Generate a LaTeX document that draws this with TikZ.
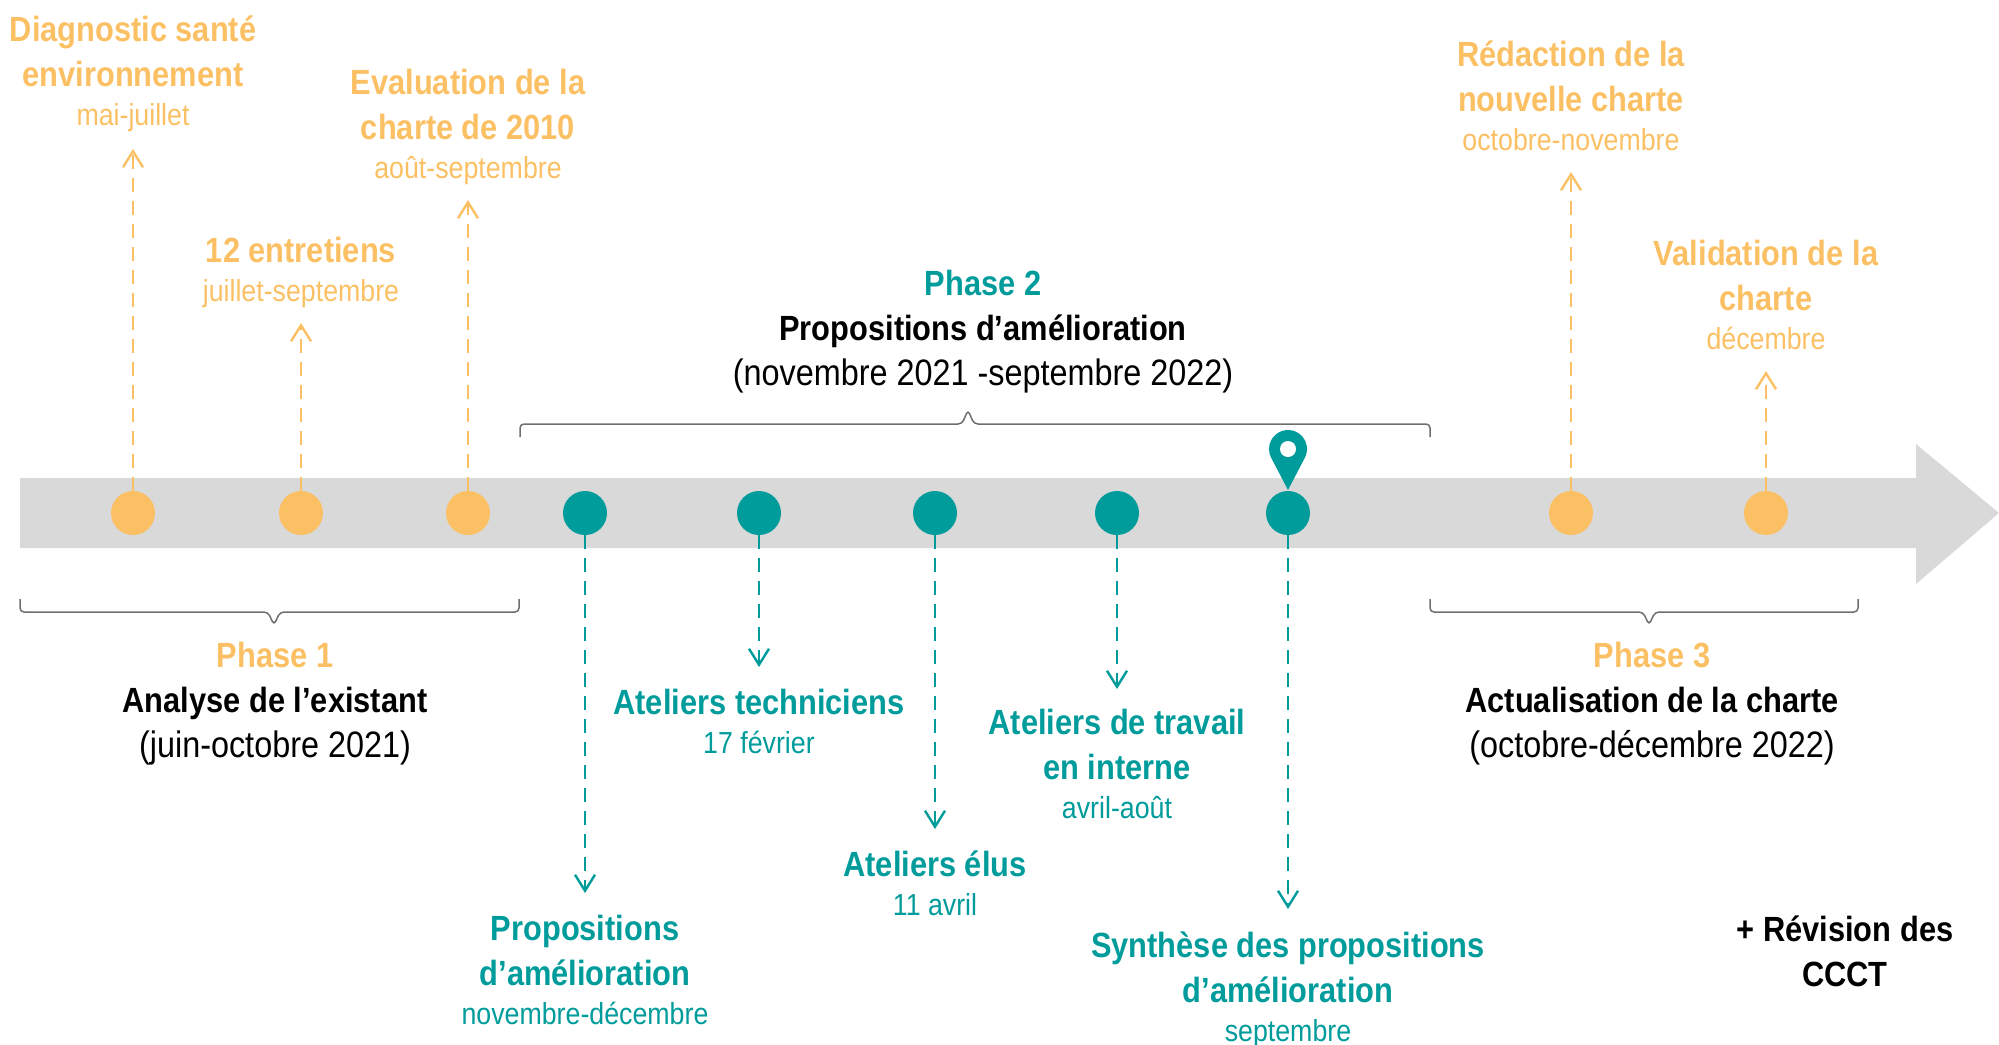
\documentclass[tikz,border=0pt]{standalone}
\usepackage{fontspec}
\setmainfont{Liberation Sans}[FakeStretch=0.88]
\usetikzlibrary{arrows.meta}

\definecolor{orangeTL}{RGB}{251,192,99}
\definecolor{tealTL}{RGB}{0,155,155}
\definecolor{barTL}{RGB}{217,217,217}
\definecolor{braceTL}{RGB}{110,110,110}

\newcommand{\datefont}{\fontsize{15.2}{22.5}\selectfont\mdseries}
\newcommand{\parenfont}{\fontsize{18.4}{22.5}\selectfont\mdseries}

\tikzset{
  dot/.style={circle, minimum size=22pt, inner sep=0pt},
  odot/.style={dot, fill=orangeTL},
  tdot/.style={dot, fill=tealTL},
  oarrow/.style={orangeTL, line width=1.2pt, dash pattern=on 7pt off 4.5pt, -{Straight Barb[length=8pt,width=10pt]}},
  tarrow/.style={tealTL, line width=1.2pt, dash pattern=on 7pt off 4.5pt, -{Straight Barb[length=8pt,width=10pt]}},
  label/.style={align=center, font=\fontsize{17.5}{22.5}\selectfont\bfseries},
  olabel/.style={label, text=orangeTL},
  tlabel/.style={label, text=tealTL},
  bracket/.style={braceTL, line width=0.75pt, rounded corners=2pt}
}

\begin{document}
\begin{tikzpicture}[x=0.5pt,y=-0.5pt]
\useasboundingbox (0,0) rectangle (1999,1045);

% Timeline bar
\fill[barTL] (20,478) -- (1916,478) -- (1916,444) -- (1999,513) -- (1916,584) -- (1916,548) -- (20,548) -- cycle;

% Brackets
\draw[bracket] (20,599) -- (20,612) -- (268,612) -- (274,625) -- (280,612) -- (519,612) -- (519,599); % phase 1
\draw[bracket] (520,437) -- (520,424) -- (962,424) -- (968,410) -- (974,424) -- (1430,424) -- (1430,437); % phase 2
\draw[bracket] (1430,599) -- (1430,612) -- (1643,612) -- (1649,625) -- (1655,612) -- (1858,612) -- (1858,599); % phase 3

% Dots
\node[odot] (d1) at (133,513) {};
\node[odot] (d2) at (301,513) {};
\node[odot] (d3) at (468,513) {};
\node[tdot] (t1) at (585,513) {};
\node[tdot] (t2) at (759,513) {};
\node[tdot] (t3) at (935,513) {};
\node[tdot] (t4) at (1117,513) {};
\node[tdot] (t5) at (1288,513) {};
\node[odot] (d4) at (1571,513) {};
\node[odot] (d5) at (1766,513) {};

% Pin
\begin{scope}[shift={(1288,490)}, x=0.5pt, y=0.5pt]
  \fill[tealTL] (0,0) -- (16.84,32.2) arc[start angle=-27.6, end angle=207.6, radius=9.5pt] -- cycle;
  \fill[white] (0,41) circle[radius=4pt];
\end{scope}

% Arrow ends
\coordinate (a1) at (133,149);
\coordinate (a2) at (301,323);
\coordinate (a3) at (468,200);
\coordinate (a4) at (1571,172);
\coordinate (a5) at (1766,371);
\coordinate (b1) at (585,893);
\coordinate (b2) at (759,667);
\coordinate (b3) at (935,829);
\coordinate (b4) at (1117,689);
\coordinate (b5) at (1288,909);

% Arrows
\draw[oarrow] (d1) -- (a1);
\draw[oarrow] (d2) -- (a2);
\draw[oarrow] (d3) -- (a3);
\draw[oarrow] (d4) -- (a4);
\draw[oarrow] (d5) -- (a5);
\draw[tarrow] (t1) -- (b1);
\draw[tarrow] (t2) -- (b2);
\draw[tarrow] (t3) -- (b3);
\draw[tarrow] (t4) -- (b4);
\draw[tarrow] (t5) -- (b5);

% Labels above
\node[olabel] (l1) at (133,74) {Diagnostic santé\\environnement\\[-3pt]{\datefont mai-juillet}};
\node[olabel] (l2) at (301,272) {12 entretiens\\[-3pt]{\datefont juillet-septembre}};
\node[olabel] (l3) at (468,127) {Evaluation de la\\charte de 2010\\[-3pt]{\datefont août-septembre}};
\node[olabel] (l4) at (1571,96) {Rédaction de la\\nouvelle charte\\[-3pt]{\datefont octobre-novembre}};
\node[olabel] (l5) at (1766,295) {Validation de la\\charte\\[-3pt]{\datefont décembre}};

% Labels below
\node[tlabel] (m1) at (585,970) {Propositions\\d’amélioration\\[-3pt]{\datefont novembre-décembre}};
\node[tlabel] (m2) at (759,721) {Ateliers techniciens\\[-3pt]{\datefont 17 février}};
\node[tlabel] (m3) at (935,883) {Ateliers élus\\[-3pt]{\datefont 11 avril}};
\node[tlabel] (m4) at (1117,764) {Ateliers de travail\\en interne\\[-3pt]{\datefont avril-août}};
\node[tlabel] (m5) at (1288,990) {Synthèse des propositions\\d’amélioration\\[-3pt]{\datefont septembre}};

% Phases
\node[label] (p1) at (275,704) {\textcolor{orangeTL}{Phase 1}\\Analyse de l’existant\\{\parenfont (juin-octobre 2021)}};
\node[label] (p2) at (983,332) {\textcolor{tealTL}{Phase 2}\\Propositions d’amélioration\\{\parenfont (novembre 2021 -septembre 2022)}};
\node[label] (p3) at (1652,704) {\textcolor{orangeTL}{Phase 3}\\Actualisation de la charte\\{\parenfont (octobre-décembre 2022)}};

\node[label] (rev) at (1845,951) {+ Révision des\\CCCT};
\end{tikzpicture}
\end{document}
